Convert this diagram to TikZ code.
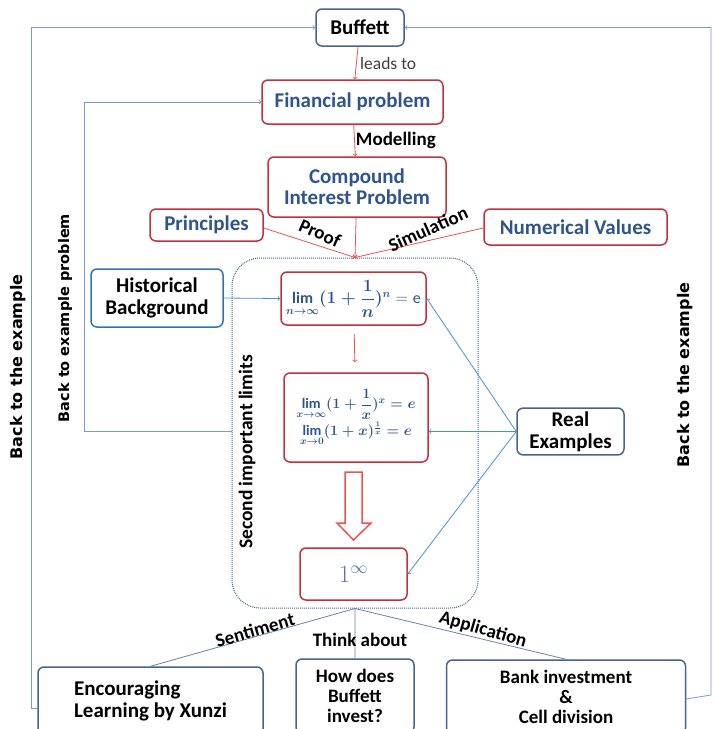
\documentclass[tikz,border=0pt]{standalone}
\usepackage{amsmath}
\usepackage{fontspec}
\setmainfont{Carlito}
\newfontfamily\widefont{DejaVu Sans}
\definecolor{boxred}{RGB}{192,50,62}
\definecolor{arrowred}{RGB}{236,82,82}
\definecolor{textblue}{RGB}{47,85,140}
\definecolor{slate}{RGB}{70,100,140}
\definecolor{histblue}{RGB}{46,117,182}
\definecolor{linkblue}{RGB}{70,145,205}
\definecolor{loopblue}{RGB}{120,155,200}

\begin{document}
\begin{tikzpicture}[x=1pt, y=-1pt, >=to,
	redbox/.style = {shape=rectangle, rounded corners=6pt, draw=boxred, line width=1.5pt, align=center, fill=white, text=textblue, font=\fontsize{21}{22}\selectfont\bfseries},
	slatebox/.style = {shape=rectangle, rounded corners=6pt, draw=slate, line width=1.5pt, align=center, fill=white, text=black, font=\fontsize{21}{22}\selectfont\bfseries},
	redarrow/.style = {draw=arrowred, line width=0.8pt, ->},
	bluearrow/.style = {draw=linkblue, line width=0.8pt, ->},
	loopline/.style = {draw=loopblue, line width=0.8pt},
	lbl/.style = {font=\fontsize{19}{20}\selectfont\bfseries, text=black, inner sep=1pt},
	sidelbl/.style = {font=\widefont\fontsize{16}{18}\selectfont\bfseries, text=black, rotate=90}]
	\useasboundingbox (0,0) rectangle (713,729);
	% top chain
	\node[slatebox, minimum width=88pt, minimum height=37pt] (buffett) at (360,27.5) {Buffett};
	\node[redbox, minimum width=181pt, minimum height=44pt] (fin) at (352.5,102) {Financial problem};
	\node[redbox, minimum width=178pt, minimum height=60pt] (comp) at (357,187) {Compound\\[-1pt]Interest Problem};
	\node[redbox, minimum width=113pt, minimum height=32pt] (princ) at (206.5,225) {Principles};
	\node[redbox, minimum width=183pt, minimum height=36pt] (numv) at (575.5,227) {Numerical Values};
	% the limits
	\node[draw=slate, densely dotted, line width=1pt, rounded corners=28pt, minimum width=246pt, minimum height=350pt] (frame) at (355,433) {};
	\node[redbox, minimum width=145pt, minimum height=53pt, font=\fontsize{16}{18}\selectfont] (lim1) at (353.5,298.5) {{\boldmath$\lim\limits_{n\to\infty}(1+\dfrac{1}{n})^{n}$}${}=\mathrm{e}$};
	\node[redbox, minimum width=144pt, minimum height=89pt, font=\fontsize{14.5}{16}\selectfont] (lim2) at (356,417.5) {{\boldmath$\lim\limits_{x\to\infty}(1+\dfrac{1}{x})^{x}=e$}\\[1pt]{\boldmath$\lim\limits_{x\to0}(1+x)^{\frac{1}{x}}=e$}};
	\node[redbox, minimum width=107pt, minimum height=52pt, font=\fontsize{23}{25}\selectfont, text=textblue!80] (one) at (353.5,574) {$1^{\infty}$};
	\node[shape=rectangle, rounded corners=6pt, draw=histblue, line width=1.5pt, align=center, text=black, font=\fontsize{21}{22}\selectfont\bfseries, minimum width=132pt, minimum height=58pt] (hist) at (157,298) {Historical\\Background};
	\node[slatebox, minimum width=107pt, minimum height=41pt] (real) at (570.5,431.5) {Real\\Examples};
	\node[font=\fontsize{19.5}{21}\selectfont\bfseries, rotate=90] (second) at (247,452) {Second important limits};
	% bottom row
	\node[slatebox, minimum width=225pt, minimum height=68pt, align=left] (enc) at (150.5,701) {Encouraging\\Learning by Xunzi};
	\node[slatebox, minimum width=118pt, minimum height=74pt, font=\fontsize{19}{20}\selectfont\bfseries] (how) at (355,696) {How does\\Buffett\\invest?};
	\node[slatebox, minimum width=239pt, minimum height=74pt, font=\fontsize{19}{20}\selectfont\bfseries] (bank) at (566,697) {Bank investment\\\&\\Cell division};
	% connectors
	\draw[redarrow] (buffett) -- (fin) node[pos=0.5, right, font=\fontsize{17.5}{19}\selectfont, text=black!75] (leads) {leads to};
	\draw[redarrow] (fin) -- (comp) node[pos=0.5, right, lbl] (model) {Modelling};
	\draw[redarrow] (comp) -- (frame.north);
	\draw[redarrow] ([yshift=-3pt]princ.east) -- (frame.north);
	\draw[redarrow] ([yshift=-1pt]numv.west) -- (frame.north);
	\node[lbl, rotate=-24] (proof) at (320,233) {Proof};
	\node[lbl, rotate=24] (simul) at (428,229) {Simulation};
	\draw[redarrow, shorten <=8pt, shorten >=10pt] (lim1) -- (lim2);
	\draw[draw=arrowred, line width=1.5pt, fill=white] (345,472) -- (362,472) -- (362,523) -- (371,523) -- (353.5,540) -- (337,523) -- (345,523) -- cycle;
	\draw[bluearrow] (hist.east) -- (lim1.west);
	\draw[bluearrow] (real.west) -- (lim1.east);
	\draw[bluearrow] (real.west) -- (lim2.east |- real.west);
	\draw[bluearrow] (real.west) -- (one.east);
	\draw[draw=slate!80, line width=0.8pt] (frame.south) -- (enc.north) (frame.south) -- (how.north) (frame.south) -- (bank.north);
	\node[lbl, rotate=16] (senti) at (255,630) {Sentiment};
	\node[lbl] (think) at (360,640) {Think about};
	\node[lbl, rotate=-16] (appl) at (483,630) {Application};
	% loops back
	\draw[loopline, ->] (frame.west |- real.west) -- ++(-147,0) |- (fin.west);
	\node[sidelbl, font=\widefont\fontsize{14.5}{16}\selectfont\bfseries] (backprob) at (65,318) {Back to example problem};
	\draw[loopline, ->] ([yshift=-7pt]enc.west) -- ++(-6,0) |- (buffett.west);
	\node[sidelbl] (backleft) at (18,367) {Back to the example};
	\draw[loopline, ->] ([yshift=-2pt]bank.east) -- (711,695) |- (buffett.east);
	\node[sidelbl] (backright) at (685,375) {Back to the example};
\end{tikzpicture}
\end{document}
